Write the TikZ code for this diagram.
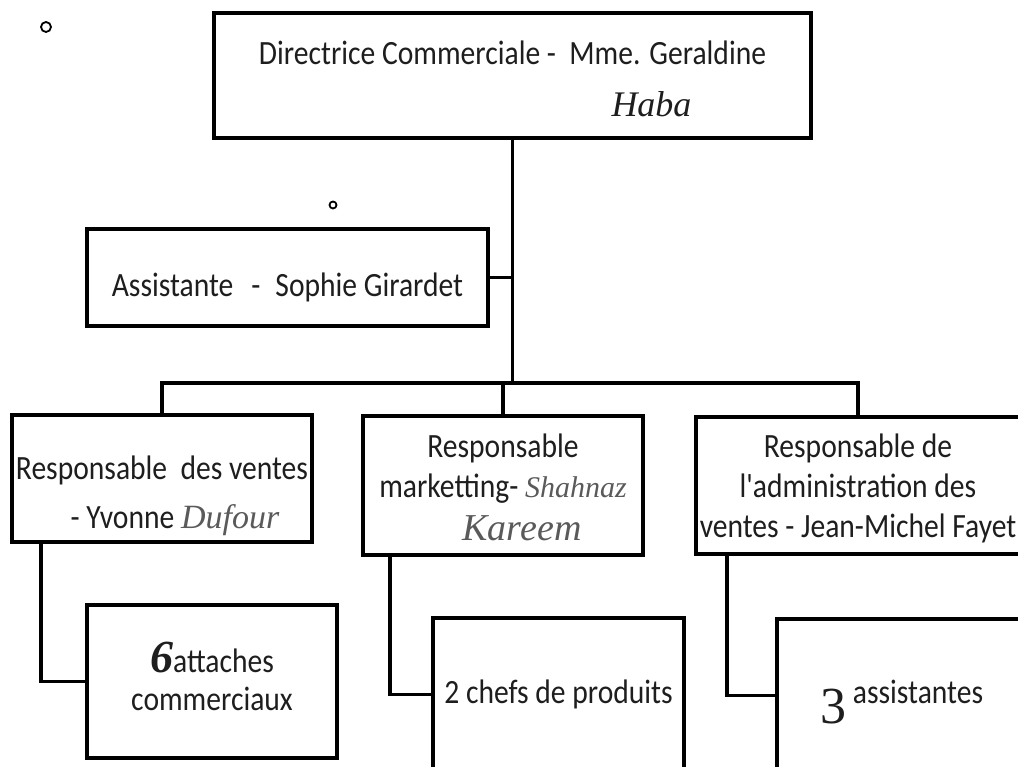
\documentclass[tikz,border=0pt]{standalone}
\usepackage{fontspec}
\setmainfont{Carlito}[FakeStretch=0.87, Ligatures=TeXOff]
\newfontfamily\hand{Liberation Serif}
\definecolor{ink}{HTML}{1E1E1E}
\definecolor{pencil}{HTML}{5A5A5A}
\begin{document}
\begin{tikzpicture}[x=1pt, y=-1pt,
  post/.style={draw, line width=4pt, inner sep=0pt, align=center, text=ink, font=\fontsize{34}{40}\selectfont},
  link/.style={line width=3.2pt}]
\clip (0,0) rectangle (1018,767);
\fill [white] (0,0) rectangle (1018,767);
\node (dir) [post, minimum width=597pt, minimum height=125pt, text height=90pt, text depth=7pt] at (512.5,75.5) {Directrice Commerciale - \ Mme. Geraldine\\[12pt] \hspace*{278pt}{\hand\itshape\fontsize{36}{40}\selectfont Haba}};
\node (asst) [post, minimum width=401pt, minimum height=97pt, text height=42pt, text depth=3pt] at (287.5,277.5) {Assistante\hspace{18pt}-\hspace{15pt}Sophie Girardet};
\node (ventes) [post, minimum width=300pt, minimum height=127pt, text height=105pt, text depth=6pt] at (162,478.5) {Responsable \ des ventes\\[9pt] \hspace*{26pt}- Yvonne {\hand\itshape\color{pencil}\fontsize{34}{40}\selectfont Dufour}};
\node (mkt) [post, minimum width=280pt, minimum height=139pt, text height=115pt, text depth=6pt] at (503,485.5) {Responsable\\ marketting- {\hand\itshape\color{pencil}\fontsize{30}{40}\selectfont Shahnaz}\\[3pt] \hspace*{38pt}{\hand\itshape\color{pencil}\fontsize{38}{40}\selectfont Kareem}};
\node (admin) [post, minimum width=324pt, minimum height=137pt, text height=110pt, text depth=7pt] at (858,485.5) {Responsable de\\ l'administration des\\ ventes - Jean-Michel Fayet};
\node (att) [post, minimum width=250pt, minimum height=153pt, text height=62pt, text depth=5pt] at (212,681.5) {{\hand\bfseries\itshape\fontsize{46}{40}\selectfont 6}attaches\\[-2pt] commerciaux};
\node (chefs) [post, minimum width=251pt, minimum height=153pt, text height=20pt, text depth=3pt] at (558.5,694.5) {2 chefs de produits};
\node (assis) [post, minimum width=250pt, minimum height=153pt, text height=20pt, text depth=5pt] at (902,695.5) {\raisebox{-20pt}{\hand\fontsize{52}{40}\selectfont 3}\hspace{6pt}assistantes};
\coordinate (bus) at (512.5,383);
\draw [link] (dir.south) -- (bus);
\draw [link] (asst.east) -- (asst.east -| bus);
\draw [link] (ventes.north) |- (bus) -| (admin.north);
\draw [link] (mkt.north) -- (mkt.north |- bus);
\draw [link] ([xshift=31pt]ventes.south west) |- (att.west);
\draw [link] ([xshift=29pt]mkt.south west) |- (chefs.west);
\draw [link] ([xshift=33pt]admin.south west) |- (assis.west);
\draw [line width=1.8pt] (46,27) circle (5pt);
\draw [line width=1.8pt] (333,205) circle (3.5pt);
\end{tikzpicture}
\end{document}
